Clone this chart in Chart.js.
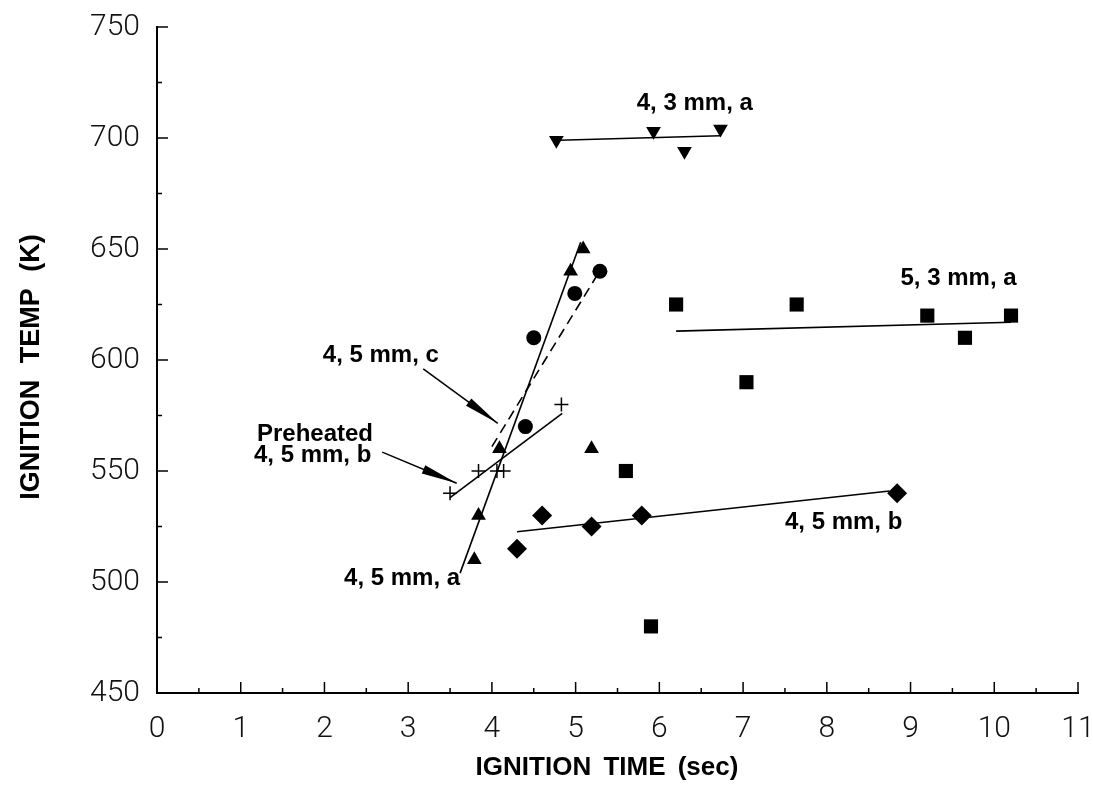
<!DOCTYPE html>
<html><head><meta charset="utf-8">
<script src="https://cdn.jsdelivr.net/npm/chart.js@4.4.0/dist/chart.umd.min.js"></script>
<style>html,body{margin:0;padding:0;background:#fff;}#wrap{width:1093px;height:789px;}</style>
</head><body><div id="wrap"><canvas id="c" width="1093" height="789"></canvas></div>
<script>
// ---- tick labels ----
const xTickLabels = [0,1,2,3,4,5,6,7,8,9,10,11];
const yTickLabels = [450,500,550,600,650,700,750];

// ---- series: 4, 5 mm, a (triangles) ----
const a45_t = [3.79, 3.84, 4.09, 4.94, 5.09, 5.19];
const a45_T = [510, 530, 560, 640, 650, 560];
const a45_fit_t = [3.62, 5.06];
const a45_fit_T = [504, 653];

// ---- series: 4, 5 mm, c (circles) ----
const c45_t = [4.40, 4.50, 4.99, 5.29];
const c45_T = [570, 610, 630, 640];
const c45_fit_t = [4.00, 5.27];
const c45_fit_T = [561, 639];

// ---- series: Preheated 4, 5 mm, b (plus) ----
const p45_t = [3.50, 3.84, 4.06, 4.14, 4.83];
const p45_T = [540, 550, 550, 550, 580];
const p45_fit_t = [3.50, 4.84];
const p45_fit_T = [538, 576];

// ---- series: 4, 5 mm, b (diamonds) ----
const b45_t = [4.30, 4.60, 5.19, 5.79, 8.84];
const b45_T = [515, 530, 525, 530, 540];
const b45_fit_t = [4.30, 8.75];
const b45_fit_T = [522.6, 541];

// ---- series: 4, 3 mm, a (inverted triangles) ----
const a43_t = [4.77, 5.93, 6.30, 6.73];
const a43_T = [699, 703, 694, 704];
const a43_fit_t = [4.80, 6.73];
const a43_fit_T = [699, 701];

// ---- series: 5, 3 mm, a (squares) ----
const a53_t = [5.60, 5.90, 6.20, 7.04, 7.64, 9.20, 9.65, 10.20];
const a53_T = [550, 480, 625, 590, 625, 620, 610, 620];
const a53_fit_t = [6.20, 10.20];
const a53_fit_T = [613, 617];

// ---- text labels (data coordinates) ----
const labelTexts = ["4, 3 mm, a", "5, 3 mm, a", "4, 5 mm, c", "Preheated", "4, 5 mm, b", "4, 5 mm, a", "4, 5 mm, b"];
const labelT = [5.73, 8.88, 1.98, 2.58, 2.56, 3.62, 7.50];
const labelK = [715.5, 636.8, 602, 566.6, 557, 501.8, 527];
const labelAlign = ["left", "left", "left", "right", "right", "right", "left"];

// ---- arrows (data coordinates, from -> tip) ----
const arrowFromT = [3.18, 2.69];
const arrowFromK = [596, 558.5];
const arrowToT = [4.07, 3.58];
const arrowToK = [571.5, 544.5];

const zip = (xs, ys) => xs.map((v, i) => ({x: v, y: ys[i]}));

function pts(t, T, style, radius, rot) {
  return {type: 'scatter', data: zip(t, T), showLine: false, pointStyle: style,
    pointRadius: radius, pointHoverRadius: radius, pointRotation: rot || 0,
    backgroundColor: '#000', borderColor: '#000', borderWidth: style === 'cross' ? 1.5 : 0};
}
function fit(t, T, dash) {
  return {type: 'line', data: zip(t, T), showLine: true, pointRadius: 0,
    borderColor: '#000', borderWidth: 1.6, borderDash: dash || [], fill: false, tension: 0};
}

const annot = {
  id: 'annot',
  afterDraw(chart) {
    const {ctx, scales: {x, y}, chartArea: a} = chart;
    ctx.save();
    ctx.strokeStyle = '#000'; ctx.fillStyle = '#000'; ctx.lineWidth = 1.5;
    // inward ticks
    for (let i = 0; i <= 22; i++) {
      const v = i * 0.5, px = x.getPixelForValue(v), len = i % 2 === 0 ? 11 : 5;
      ctx.beginPath(); ctx.moveTo(px, a.bottom); ctx.lineTo(px, a.bottom - len); ctx.stroke();
    }
    for (let i = 0; i <= 12; i++) {
      const v = 450 + i * 25, py = y.getPixelForValue(v), len = i % 2 === 0 ? 11 : 5;
      ctx.beginPath(); ctx.moveTo(a.left, py); ctx.lineTo(a.left + len, py); ctx.stroke();
    }
    // arrows
    for (let i = 0; i < arrowFromT.length; i++) {
      const x0 = x.getPixelForValue(arrowFromT[i]), y0 = y.getPixelForValue(arrowFromK[i]);
      const x1 = x.getPixelForValue(arrowToT[i]), y1 = y.getPixelForValue(arrowToK[i]);
      const ang = Math.atan2(y1 - y0, x1 - x0), L = 36, W = 4.5;
      ctx.beginPath(); ctx.moveTo(x0, y0); ctx.lineTo(x1, y1); ctx.stroke();
      const bx = x1 - L * Math.cos(ang), by = y1 - L * Math.sin(ang);
      ctx.beginPath(); ctx.moveTo(x1, y1);
      ctx.lineTo(bx + W * Math.sin(ang), by - W * Math.cos(ang));
      ctx.lineTo(bx - W * Math.sin(ang), by + W * Math.cos(ang));
      ctx.closePath(); ctx.fill();
    }
    // annotation labels
    ctx.font = 'bold 24px "Liberation Sans", Arial, sans-serif';
    ctx.textBaseline = 'middle';
    for (let i = 0; i < labelTexts.length; i++) {
      ctx.textAlign = labelAlign[i];
      ctx.fillText(labelTexts[i], x.getPixelForValue(labelT[i]), y.getPixelForValue(labelK[i]));
    }
    // axis titles
    ctx.font = 'bold 26px "Liberation Sans", Arial, sans-serif';
    ctx.textAlign = 'center';
    try { ctx.wordSpacing = '5px'; } catch (e) {}
    ctx.fillText('IGNITION TIME (sec)', 607, 768);
    ctx.save();
    ctx.font = 'bold 27px "Liberation Sans", Arial, sans-serif';
    try { ctx.wordSpacing = '9px'; } catch (e) {}
    ctx.translate(32, 367); ctx.rotate(-Math.PI / 2);
    ctx.fillText('IGNITION TEMP (K)', 0, 0);
    ctx.restore();
    ctx.restore();
  }
};

const tickFont = {family: 'Roboto, "Open Sans", sans-serif', size: 30, weight: '300'};

new Chart(document.getElementById('c'), {
  data: {datasets: [
    pts(a45_t, a45_T, 'triangle', 8.5),
    fit(a45_fit_t, a45_fit_T),
    pts(c45_t, c45_T, 'circle', 7.5),
    fit(c45_fit_t, c45_fit_T, [10, 6]),
    pts(p45_t, p45_T, 'cross', 7),
    fit(p45_fit_t, p45_fit_T),
    pts(b45_t, b45_T, 'rectRot', 10),
    fit(b45_fit_t, b45_fit_T),
    pts(a43_t, a43_T, 'triangle', 8.5, 180),
    fit(a43_fit_t, a43_fit_T),
    pts(a53_t, a53_T, 'rect', 10),
    fit(a53_fit_t, a53_fit_T)
  ]},
  options: {
    responsive: false, animation: false,
    layout: {padding: {top: 27, right: 15, left: 0, bottom: 0}},
    plugins: {legend: {display: false}, tooltip: {enabled: false}},
    scales: {
      x: {type: 'linear', min: xTickLabels[0], max: xTickLabels[xTickLabels.length - 1],
        afterFit(s) { s.height = 96; s.paddingLeft = 0; s.paddingRight = 0; },
        grid: {display: true, drawOnChartArea: false, drawTicks: false},
        border: {display: true, color: '#000', width: 2},
        ticks: {stepSize: 1, padding: 18, color: '#111', font: tickFont,
          callback: v => xTickLabels.includes(v) ? String(v) : ''}},
      y: {type: 'linear', min: yTickLabels[0], max: yTickLabels[yTickLabels.length - 1],
        afterFit(s) { s.width = 157; s.paddingTop = 0; s.paddingBottom = 0; },
        grid: {display: true, drawOnChartArea: false, drawTicks: false},
        border: {display: true, color: '#000', width: 2},
        ticks: {stepSize: 50, padding: 17, color: '#111', font: tickFont,
          callback: v => yTickLabels.includes(v) ? String(v) : ''}}
    }
  },
  plugins: [annot]
});
</script></body></html>
